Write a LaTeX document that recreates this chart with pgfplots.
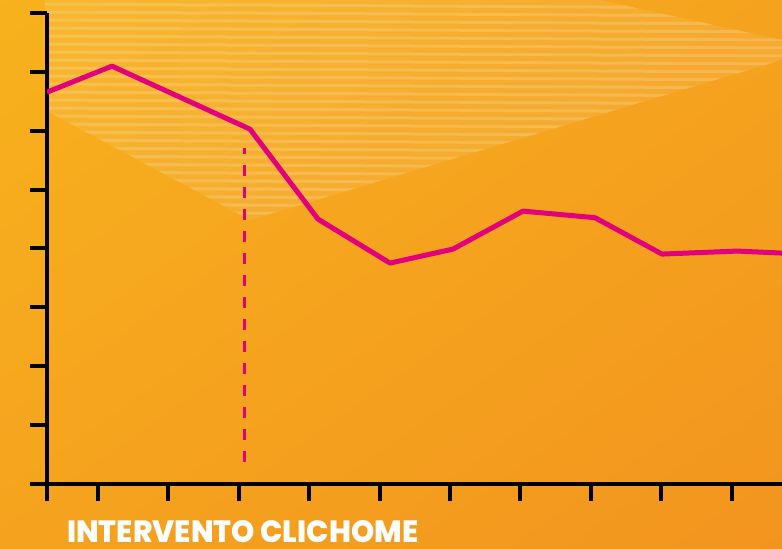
\documentclass[border=0pt]{standalone}
\usepackage{pgfplots}
\pgfplotsset{compat=1.18}
\usepackage{fontspec}
\usepackage{graphicx}
\newfontfamily\pop{Poppins ExtraBold}
\definecolor{mag}{HTML}{E2007D}
\definecolor{bgyel}{HTML}{F8B41D}
\definecolor{bgor}{HTML}{F2921F}

\begin{document}
\begin{tikzpicture}[x=1bp,y=1bp]
\begin{scope}
\clip (0,0) rectangle (782,549);
% background
\shade[shading=axis, top color=bgyel, bottom color=bgor, shading angle=35] (-200,-200) rectangle (982,749);
\begin{scope}
\clip (45,549) -- (600,549) -- (782,509) -- (782,489) -- (250,329) -- (45,439) -- cycle;
\fill[white, opacity=0.08] (0,0) rectangle (782,549);
\foreach \k in {0,...,28} {
  \draw[white, opacity=0.16, line width=3bp] (40,{545-8*\k}) -- (782,{541-8*\k});
}
\end{scope}

\begin{axis}[
    at={(47bp,65bp)}, anchor=south west,
    scale only axis,
    width=735bp, height=471bp,
    xmin=0.276, xmax=10.716,
    ymin=0, ymax=8,
    axis x line*=bottom, axis y line*=left,
    axis line style={line width=4.5bp, black},
    xtick={0.276,1,2,...,10}, ytick={0,1,...,8},
    xticklabels={}, yticklabels={},
    xtick pos=bottom, ytick pos=left,
    tick align=outside,
    major tick length=17bp,
    every tick/.style={line width=4bp, black},
]
\addplot[mag, line width=5bp, line join=round] coordinates {
    (0.276,6.655)
    (1.199,7.097)
    (3.159,6.027)
    (4.125,4.499)
    (5.148,3.752)
    (6.043,3.990)
    (7.037,4.635)
    (8.060,4.523)
    (9.011,3.905)
    (10.077,3.956)
    (10.716,3.922)
};
\addplot[mag, line width=3bp, dash pattern=on 11bp off 11bp] coordinates {
    (3.088,0.37)
    (3.088,5.70)
};
\end{axis}

\node[anchor=base west, text=white, inner sep=0pt] at (67,6)
    {\resizebox{351bp}{22bp}{\pop INTERVENTO CLICHOME}};
\end{scope}
\pgfresetboundingbox
\useasboundingbox (0,0) rectangle (782,549);
\end{tikzpicture}
\end{document}
